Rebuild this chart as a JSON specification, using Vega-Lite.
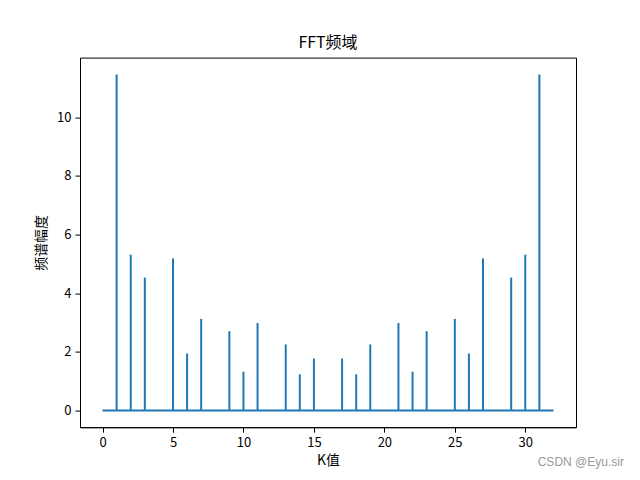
{
  "$schema": "https://vega.github.io/schema/vega-lite/v6.json",
  "autosize": {"type": "none"},
  "width": 496,
  "height": 369.6,
  "padding": {"left": 80, "top": 57.6, "right": 64, "bottom": 52.8},
  "background": "white",
  "config": {
    "view": {"stroke": "black", "strokeWidth": 1},
    "font": "Noto Sans CJK SC",
    "axis": {
      "grid": false,
      "domainColor": "black",
      "domainWidth": 1,
      "tickColor": "black",
      "tickWidth": 1,
      "tickSize": 5,
      "labelPadding": 4,
      "labelFont": "Noto Sans CJK SC",
      "labelFontSize": 13,
      "labelColor": "black",
      "titleFont": "Noto Sans CJK SC",
      "titleFontSize": 13.9,
      "titleFontWeight": "normal",
      "titleColor": "black"
    }
  },
  "title": {
    "text": "FFT频域",
    "font": "Noto Sans CJK SC",
    "fontSize": 16,
    "fontWeight": "normal",
    "color": "black",
    "offset": 7
  },
  "datasets": {
    "stems": [
      {"k": 0, "amp": 0, "base": 0},
      {"k": 1, "amp": 11.46, "base": 0},
      {"k": 2, "amp": 5.31, "base": 0},
      {"k": 3, "amp": 4.53, "base": 0},
      {"k": 4, "amp": 0, "base": 0},
      {"k": 5, "amp": 5.18, "base": 0},
      {"k": 6, "amp": 1.94, "base": 0},
      {"k": 7, "amp": 3.12, "base": 0},
      {"k": 8, "amp": 0, "base": 0},
      {"k": 9, "amp": 2.7, "base": 0},
      {"k": 10, "amp": 1.32, "base": 0},
      {"k": 11, "amp": 2.98, "base": 0},
      {"k": 12, "amp": 0, "base": 0},
      {"k": 13, "amp": 2.25, "base": 0},
      {"k": 14, "amp": 1.23, "base": 0},
      {"k": 15, "amp": 1.77, "base": 0},
      {"k": 16, "amp": 0, "base": 0},
      {"k": 17, "amp": 1.77, "base": 0},
      {"k": 18, "amp": 1.23, "base": 0},
      {"k": 19, "amp": 2.25, "base": 0},
      {"k": 20, "amp": 0, "base": 0},
      {"k": 21, "amp": 2.98, "base": 0},
      {"k": 22, "amp": 1.32, "base": 0},
      {"k": 23, "amp": 2.7, "base": 0},
      {"k": 24, "amp": 0, "base": 0},
      {"k": 25, "amp": 3.12, "base": 0},
      {"k": 26, "amp": 1.94, "base": 0},
      {"k": 27, "amp": 5.18, "base": 0},
      {"k": 28, "amp": 0, "base": 0},
      {"k": 29, "amp": 4.53, "base": 0},
      {"k": 30, "amp": 5.31, "base": 0},
      {"k": 31, "amp": 11.46, "base": 0}
    ],
    "baseline": [{"start": 0, "end": 32, "level": 0}],
    "wm": [{"label": "CSDN @Eyu.sir", "px": 37.0, "py": -1.75}]
  },
  "layer": [
    {
      "data": {"name": "stems"},
      "mark": {"type": "rule", "color": "#1f77b4", "strokeWidth": 2},
      "encoding": {
        "x": {
          "field": "k",
          "type": "quantitative",
          "title": "K值",
          "scale": {"domain": [-1.6, 33.6], "nice": false, "zero": false},
          "axis": {"values": [0, 5, 10, 15, 20, 25, 30], "labelAngle": 0, "titlePadding": 4}
        },
        "y": {
          "field": "amp",
          "type": "quantitative",
          "title": "频谱幅度",
          "scale": {"domain": [-0.573, 12.033], "nice": false, "zero": false},
          "axis": {"values": [0, 2, 4, 6, 8, 10], "titlePadding": 8}
        },
        "y2": {"field": "base"}
      }
    },
    {
      "data": {"name": "baseline"},
      "mark": {"type": "rule", "color": "#1f77b4", "strokeWidth": 2},
      "encoding": {
        "x": {"field": "start", "type": "quantitative"},
        "x2": {"field": "end"},
        "y": {"field": "level", "type": "quantitative"}
      }
    },
    {
      "data": {"name": "wm"},
      "mark": {"type": "text", "align": "right", "baseline": "middle", "color": "#999999", "fontSize": 12, "font": "Liberation Sans", "clip": false},
      "encoding": {
        "x": {"field": "px", "type": "quantitative"},
        "y": {"field": "py", "type": "quantitative"},
        "text": {"field": "label"}
      }
    }
  ]
}
